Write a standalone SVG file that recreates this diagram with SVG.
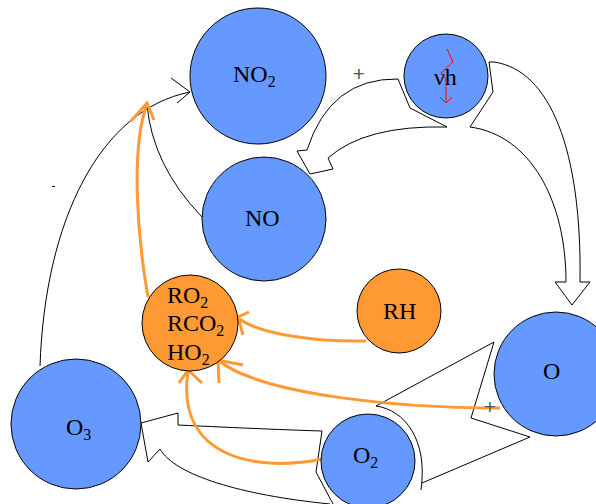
<svg xmlns="http://www.w3.org/2000/svg" width="596" height="504" viewBox="0 0 596 504">
<style>
.blue{fill:#6699FF;stroke:#000;stroke-width:1}
.orng{fill:#FF9933;stroke:#000;stroke-width:1}
.blk{fill:#fff;stroke:#000;stroke-width:1;stroke-linejoin:miter}
.ln{fill:none;stroke:#000;stroke-width:1}
.or{fill:none;stroke:#FF9933;stroke-width:3}
.t{font-family:"Liberation Serif","Times New Roman",serif;font-size:24px;fill:#000}
.s{font-size:16px}
.plus{font-family:"Liberation Sans",Arial,sans-serif;font-size:21px;fill:#555;text-anchor:middle}
</style>
<rect width="596" height="504" fill="#fff"/>
<g id="connectors">
  <path class="blk" d="M398 79 Q330 78 307 150 L297 151 L310 174 L333 169 L328 158 Q365 125 447 127 L410 108 Z"/>
  <path class="blk" d="M494 62 C550 70 582 150 580 282 L590 282 L572 305 L555 282 L566 282 C566 200 530 135 470 127 L493 92 L489 62 Z"/>
  <path class="ln" d="M333 504 L316 472 L322 431 C290 430 240 428 178 425 L178 413 L141 423 L148 462 L160 449 C175 475 240 495 330 504"/>
  <path class="ln" d="M421 490 C428 440 405 410 376 406 L494 342 L471 418 L530 437 L422 483"/>
  <path class="ln" d="M40 366 C45 220 100 110 190 92"/>
  <polyline class="ln" points="171,78 190,92 177,103"/>
  <path class="ln" d="M202 217 Q152 165 147 104"/>
  <path class="or" d="M148 297 C138 240 130 150 147 104"/>
  <polyline class="or" points="131,121 147,103 154,120"/>
  <path class="or" d="M366 341 C320 342 260 335 238 318"/>
  <polyline class="or" points="249,312 238,317 243,335"/>
  <path class="or" d="M500 408 C400 408 260 395 218 360"/>
  <polyline class="or" points="243,365 218,360 219,383"/>
  <path class="or" d="M322 459 C260 472 175 460 188 371"/>
  <polyline class="or" points="179,383 188,370 202,383"/>
</g>
<g id="NO2"><circle class="blue" cx="258" cy="76" r="68"/><text class="t" x="233" y="82">NO<tspan class="s" dy="5">2</tspan></text></g>
<g id="hv"><circle class="blue" cx="446" cy="76" r="42"/><text class="t" x="434" y="85">νh</text>
  <polyline fill="none" stroke="#FF0000" stroke-width="1" points="447,49 453,62 441,73 446,79 446,103"/>
  <polyline fill="none" stroke="#FF0000" stroke-width="1" points="440,97 446,103 452,97"/>
</g>
<g id="NO"><circle class="blue" cx="264" cy="219" r="62"/><text class="t" x="245" y="226">NO</text></g>
<g id="RH"><circle class="orng" cx="399" cy="311" r="42"/><text class="t" x="383" y="319">RH</text></g>
<g id="RO2"><circle class="orng" cx="190" cy="323" r="48"/>
  <text class="t" x="167" y="303">RO<tspan class="s" dy="5">2</tspan></text>
  <text class="t" x="167" y="331">RCO<tspan class="s" dy="5">2</tspan></text>
  <text class="t" x="167" y="360">HO<tspan class="s" dy="5">2</tspan></text>
</g>
<g id="O"><circle class="blue" cx="556" cy="374" r="62"/><text class="t" x="543" y="379">O</text></g>
<g id="O2"><circle class="blue" cx="368" cy="461" r="47"/><text class="t" x="353" y="463">O<tspan class="s" dy="5">2</tspan></text></g>
<g id="O3"><circle class="blue" cx="76" cy="424" r="65"/><text class="t" x="66" y="435">O<tspan class="s" dy="5">3</tspan></text></g>
<text class="plus" x="359" y="81">+</text>
<text class="plus" x="490" y="414">+</text>
<rect x="52" y="186" width="3" height="1" fill="#000"/>
</svg>
